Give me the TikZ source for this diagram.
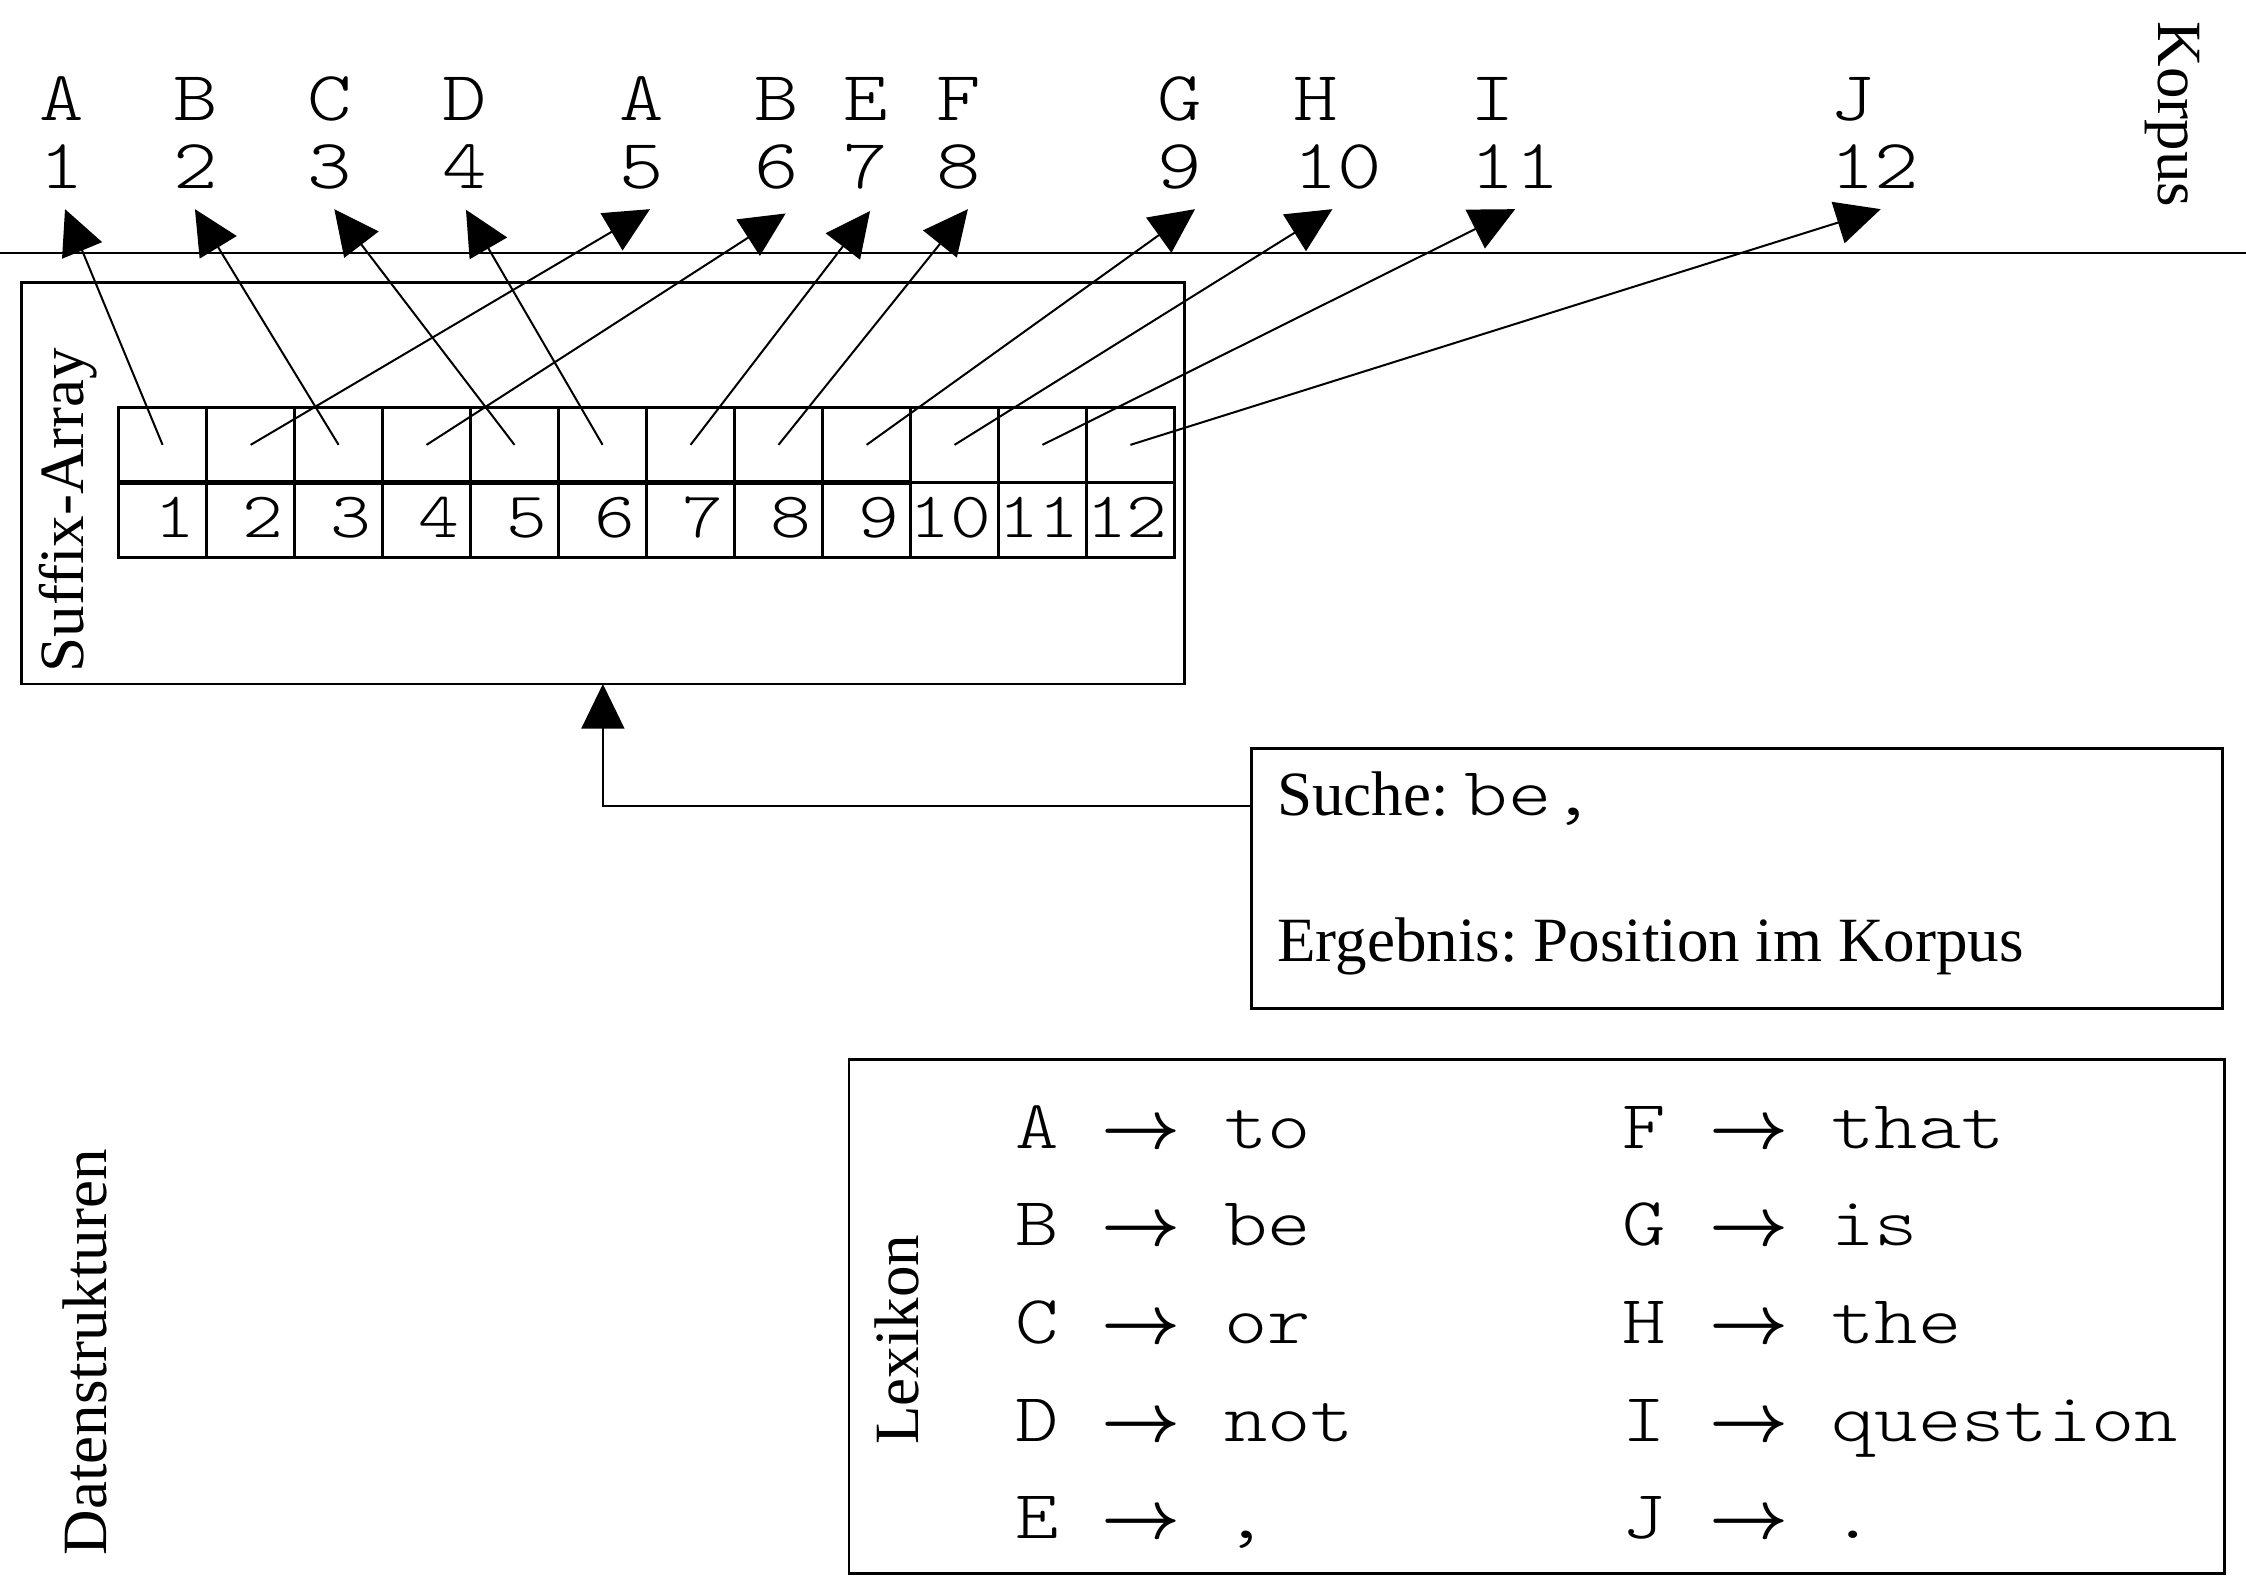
\documentclass[tikz,border=0pt]{standalone}
\usepackage{fontspec}
\setmainfont{Liberation Serif}
\newfontfamily\cour{lmmonolt10-regular.otf}[FakeStretch=1.2]
\usetikzlibrary{arrows.meta}
\usetikzlibrary{positioning}
\usetikzlibrary{fit}
\usetikzlibrary{calc}
\frenchspacing

\begin{document}
\begin{tikzpicture}[x=0.25pt,y=0.25pt,yscale=-1,xscale=1,
  frame/.style={draw, line width=0.5pt, inner sep=0pt, outer sep=0pt},
  cell/.style={draw, line width=0.45pt, minimum width=15.36pt, minimum height=13.075pt, inner sep=0pt, outer sep=0pt},
  ptr/.style={line width=0.35pt, -{Triangle[length=7.8pt,width=7.5pt]}},
  corp/.style={font=\fontsize{12.3pt}{15pt}\selectfont\cour, inner sep=0pt, anchor=base west},
  idx/.style={font=\fontsize{11.3pt}{13pt}\selectfont\cour, inner sep=0pt, anchor=base east},
  lex/.style={font=\fontsize{12pt}{15pt}\selectfont\cour, inner sep=0pt, anchor=base west},
  lbl/.style={font=\fontsize{11pt}{13pt}\selectfont, inner sep=0pt}]
\useasboundingbox (0,0) rectangle (1568,1108);

%Straight Lines
\draw [line width=0.5pt] (0,176.6) -- (1568,176.6) ;

% Text Node
\node (korpus) [lbl, rotate=-90, anchor=base] at (1507,80) {Korpus};
\node (salbl) [lbl, rotate=90, anchor=base] at (58,356) {Suffix-Array};
\node (lexlbl) [lbl, rotate=90, anchor=base] at (641,935.4) {Lexikon};
\node (dslbl) [lbl, rotate=90, anchor=base] at (74.5,944) {Datenstrukturen};

% corpus
\node (w1) [corp] at (27,83.8) {A};     \node (p1) [corp] at (27,131.5) {1};
\node (w2) [corp] at (120,83.8) {B};    \node (p2) [corp] at (120,131.5) {2};
\node (w3) [corp] at (214,83.8) {C};    \node (p3) [corp] at (214,131.5) {3};
\node (w4) [corp] at (308,83.8) {D};    \node (p4) [corp] at (308,131.5) {4};
\node (w5) [corp] at (432,83.8) {A};    \node (p5) [corp] at (432,131.5) {5};
\node (w6) [corp] at (526,83.8) {B};    \node (p6) [corp] at (526,131.5) {6};
\node (w7) [corp] at (588,83.8) {E};    \node (p7) [corp] at (588,131.5) {7};
\node (w8) [corp] at (653,83.8) {F};    \node (p8) [corp] at (653,131.5) {8};
\node (w9) [corp] at (807,83.8) {G};    \node (p9) [corp] at (807,131.5) {9};
\node (w10) [corp] at (902,83.8) {H};   \node (p10) [corp] at (902,131.5) {10};
\node (w11) [corp] at (1026,83.8) {I};  \node (p11) [corp] at (1026,131.5) {11};
\node (w12) [corp] at (1277,83.8) {J};  \node (p12) [corp] at (1277,131.5) {12};

\coordinate (t1) at (45.4,146);
\coordinate (t2) at (136.1,146);
\coordinate (t3) at (233.4,146);
\coordinate (t4) at (325.3,146.4);
\coordinate (t5) at (453.8,146);
\coordinate (t6) at (548.5,149);
\coordinate (t7) at (607.4,147.3);
\coordinate (t8) at (675.7,146);
\coordinate (t9) at (834.3,146);
\coordinate (t10) at (930.2,146);
\coordinate (t11) at (1057.8,146);
\coordinate (t12) at (1313,146);

%Rectangle
\node (sabox) [frame, fit={(15,197.3) (826.8,477.5)}] {};

% suffix array cells
\node (c1) [cell] at (113.5,310.55) {};   \node (n1) [cell, below=0pt of c1] {};
\node (c2) [cell] at (175,310.55) {};     \node (n2) [cell, below=0pt of c2] {};
\node (c3) [cell] at (236.4,310.55) {};   \node (n3) [cell, below=0pt of c3] {};
\node (c4) [cell] at (297.8,310.55) {};   \node (n4) [cell, below=0pt of c4] {};
\node (c5) [cell] at (359.2,310.55) {};   \node (n5) [cell, below=0pt of c5] {};
\node (c6) [cell] at (420.7,310.55) {};   \node (n6) [cell, below=0pt of c6] {};
\node (c7) [cell] at (482.1,310.55) {};   \node (n7) [cell, below=0pt of c7] {};
\node (c8) [cell] at (543.5,310.55) {};   \node (n8) [cell, below=0pt of c8] {};
\node (c9) [cell] at (605,310.55) {};     \node (n9) [cell, below=0pt of c9] {};
\node (c10) [cell] at (666.4,310.55) {};  \node (n10) [cell, below=0pt of c10] {};
\node (c11) [cell] at (727.8,310.55) {};  \node (n11) [cell, below=0pt of c11] {};
\node (c12) [cell] at (789.2,310.55) {};  \node (n12) [cell, below=0pt of c12] {};
\draw [line width=0.9pt] (c1.south west) -- (c9.south east) ;

\node (i1) [idx] at (137.2,375) {1};
\node (i2) [idx] at (198.7,375) {2};
\node (i3) [idx] at (260.1,375) {3};
\node (i4) [idx] at (321.5,375) {4};
\node (i5) [idx] at (382.9,375) {5};
\node (i6) [idx] at (444.4,375) {6};
\node (i7) [idx] at (505.8,375) {7};
\node (i8) [idx] at (567.2,375) {8};
\node (i9) [idx] at (628.7,375) {9};
\node (i10) [idx] at (693,375) {10};
\node (i11) [idx] at (754.5,375) {11};
\node (i12) [idx] at (816,375) {12};

%Straight Lines
\draw [ptr] (c1.center) -- (t1) ;
\draw [ptr] (c2.center) -- (t5) ;
\draw [ptr] (c3.center) -- (t2) ;
\draw [ptr] (c4.center) -- (t6) ;
\draw [ptr] (c5.center) -- (t3) ;
\draw [ptr] (c6.center) -- (t4) ;
\draw [ptr] (c7.center) -- (t7) ;
\draw [ptr] (c8.center) -- (t8) ;
\draw [ptr] (c9.center) -- (t9) ;
\draw [ptr] (c10.center) -- (t10) ;
\draw [ptr] (c11.center) -- (t11) ;
\draw [ptr] (c12.center) -- (t12) ;

%Rectangle
\node (suche) [frame, fit={(873.6,522.4) (1551.3,704)}] {};
\node (q1) [lbl, anchor=base west] at (891,569) {Suche: {\fontsize{12pt}{14pt}\selectfont\cour be,}};
\node (q2) [lbl, anchor=base west] at (891,671.4) {Ergebnis: Position im Korpus};
\draw [ptr] ($(suche.north west)!0.222!(suche.south west)$) -| (sabox.south) ;

%Rectangle
\node (lexbox) [frame, fit={(592.7,739.5) (1552.7,1098.7)}] {};
\node (la) [lex] at (708,801.6) {A {\boldmath$\rightarrow$} to};
\node (lb) [lex] at (708,869.8) {B {\boldmath$\rightarrow$} be};
\node (lc) [lex] at (708,938) {C {\boldmath$\rightarrow$} or};
\node (ld) [lex] at (708,1006.2) {D {\boldmath$\rightarrow$} not};
\node (le) [lex] at (708,1074.4) {E {\boldmath$\rightarrow$} ,};
\node (lf) [lex] at (1132,801.6) {F {\boldmath$\rightarrow$} that};
\node (lg) [lex] at (1132,869.8) {G {\boldmath$\rightarrow$} is};
\node (lh) [lex] at (1132,938) {H {\boldmath$\rightarrow$} the};
\node (li) [lex] at (1132,1006.2) {I {\boldmath$\rightarrow$} question};
\node (lj) [lex] at (1132,1074.4) {J {\boldmath$\rightarrow$} .};

\end{tikzpicture}
\end{document}
